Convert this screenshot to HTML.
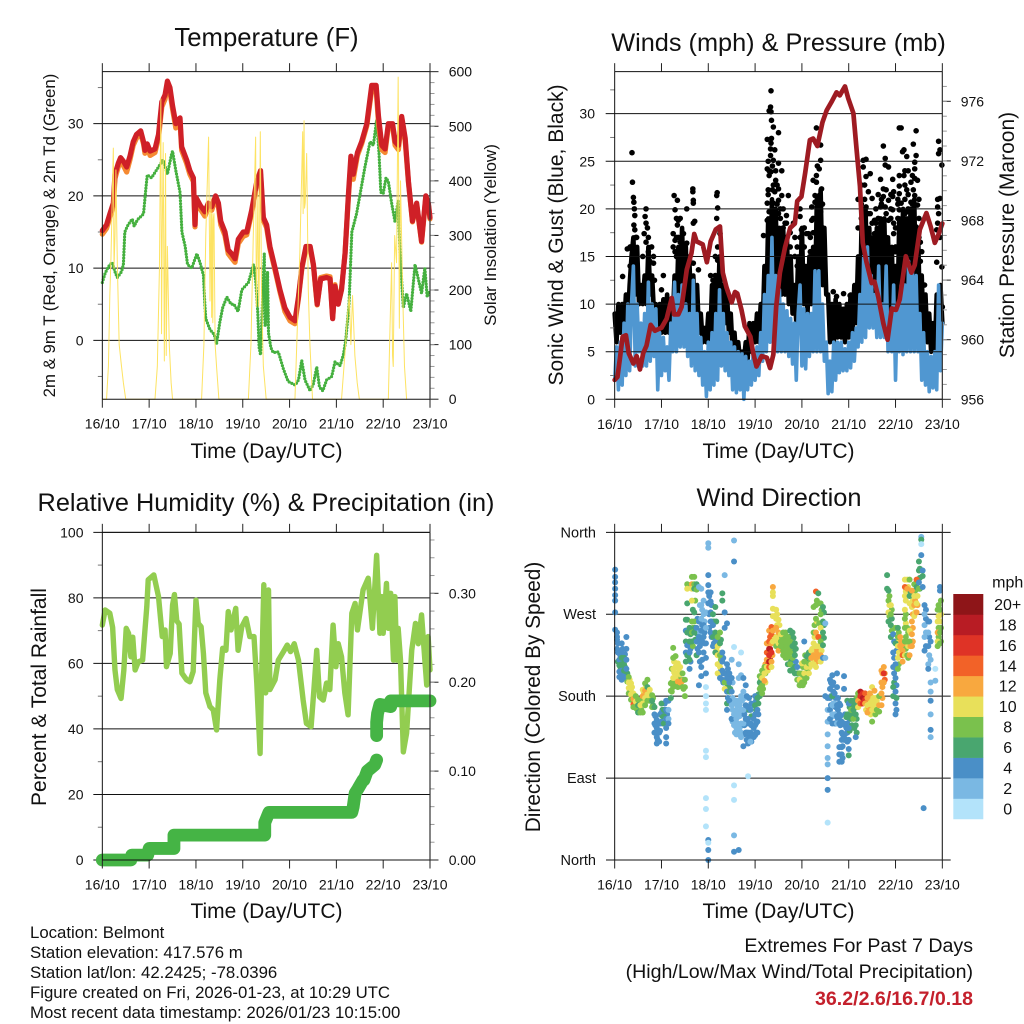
<!DOCTYPE html>
<html lang="en">
<head>
<meta charset="utf-8">
<title>Belmont station meteogram</title>
<style>
html,body{margin:0;padding:0;background:#fff;width:1024px;height:1024px;overflow:hidden}
svg{display:block}
text{font-family:"Liberation Sans",Arial,sans-serif;fill:#111}
</style>
</head>
<body>
<svg id="chart" xmlns="http://www.w3.org/2000/svg" width="1024" height="1024" viewBox="0 0 1024 1024">
<rect x="0" y="0" width="1024" height="1024" fill="#fff"/>
<g id="plots"></g>
<text x="266.5" y="46" font-size="25.7" text-anchor="middle">Temperature (F)</text>
<text x="778.5" y="51" font-size="25.3" text-anchor="middle">Winds (mph) &amp; Pressure (mb)</text>
<text x="266" y="511" font-size="25.3" text-anchor="middle">Relative Humidity (%) &amp; Precipitation (in)</text>
<text x="779" y="506" font-size="25.4" text-anchor="middle">Wind Direction</text>
<text x="266.5" y="458" font-size="21" text-anchor="middle">Time (Day/UTC)</text>
<text x="778.5" y="458" font-size="21" text-anchor="middle">Time (Day/UTC)</text>
<text x="266.5" y="918" font-size="21" text-anchor="middle">Time (Day/UTC)</text>
<text x="778.5" y="918" font-size="21" text-anchor="middle">Time (Day/UTC)</text>
<text transform="translate(55 235.5) rotate(-90)" font-size="16.8" text-anchor="middle">2m &amp; 9m T (Red, Orange) &amp; 2m Td (Green)</text>
<text transform="translate(496 235) rotate(-90)" font-size="17" text-anchor="middle">Solar Insolation (Yellow)</text>
<text transform="translate(563 235) rotate(-90)" font-size="21" text-anchor="middle">Sonic Wind &amp; Gust (Blue, Black)</text>
<text transform="translate(1014 235) rotate(-90)" font-size="21" text-anchor="middle">Station Pressure (Maroon)</text>
<text transform="translate(46 697) rotate(-90)" font-size="21" text-anchor="middle">Percent &amp; Total Rainfall</text>
<text transform="translate(540 697) rotate(-90)" font-size="20.8" text-anchor="middle">Direction (Colored By Speed)</text>
<text x="30" y="938" font-size="16.8">Location: Belmont</text>
<text x="30" y="958" font-size="16.8">Station elevation: 417.576 m</text>
<text x="30" y="978" font-size="16.8">Station lat/lon: 42.2425; -78.0396</text>
<text x="30" y="998" font-size="16.8">Figure created on Fri, 2026-01-23, at 10:29 UTC</text>
<text x="30" y="1018" font-size="16.8">Most recent data timestamp: 2026/01/23 10:15:00</text>
<text x="973" y="952" font-size="19.6" text-anchor="end">Extremes For Past 7 Days</text>
<text x="973" y="978" font-size="19.6" text-anchor="end">(High/Low/Max Wind/Total Precipitation)</text>
<text x="973" y="1005" font-size="19.6" font-weight="bold" text-anchor="end" style="fill:#c4202c">36.2/2.6/16.7/0.18</text>
</svg>
<script>
/* ---------- shared tick labels ---------- */
const dayTickLabels = ["16/10","17/10","18/10","19/10","20/10","21/10","22/10","23/10"];
const tempLeftTicks = [0,10,20,30];
const tempLeftMinor = [-5,5,15,25,35];
const solarTicks = [0,100,200,300,400,500,600];
const windLeftTicks = [0,5,10,15,20,25,30];
const windLeftMinor = [2.5,7.5,12.5,17.5,22.5,27.5,32.5];
const pressureTicks = [956,960,964,968,972,976];
const humidityTicks = [0,20,40,60,80,100];
const humidityMinor = [10,30,50,70,90];
const rainTicks = [0,0.1,0.2,0.3];
const directionTicks = [0,90,180,270,360];
const directionLabels = ["North","East","South","West","North"];
const speedBinLabels = ["0","2","4","6","8","10","12","14","16","18","20+"];
const speedBinColors = ["#b3e3fa","#7ab8e3","#4a8fc7","#49a66f","#7ac14d","#e8e05a","#f8a83f","#f26228","#df3326","#b81c24","#8e1518"];

/* ---------- temperature panel ---------- */
const tempDays = [0,.09,.16,.235,.27,.34,.39,.45,.52,.59,.66,.73,.82,.88,.91,.96,1.02,1.125,1.2,1.27,1.34,1.39,1.445,1.5,1.57,1.66,1.695,1.8,1.87,1.945,1.98,2.0,2.09,2.19,2.265,2.335,2.42,2.48,2.53,2.62,2.69,2.76,2.835,2.905,3.01,3.085,3.19,3.3,3.38,3.44,3.51,3.58,3.69,3.795,3.9,4.01,4.115,4.19,4.26,4.35,4.44,4.51,4.59,4.665,4.79,4.865,4.92,4.97,5.04,5.11,5.185,5.255,5.31,5.36,5.45,5.54,5.65,5.755,5.85,5.9,5.97,6.04,6.11,6.2,6.255,6.325,6.395,6.47,6.54,6.625,6.715,6.82,6.91,6.965,7];
const temp2m = [15.2,16,17.5,19,23,24.5,25.3,24.8,24,25.5,27.5,28.5,29,27.5,26.3,27.2,26.2,26.5,28.5,33,34,35.9,35,32.5,30,30.8,26.8,25,23.5,22.5,16,19.8,18.7,17.8,19,18.5,20,19,16.5,15,12.5,12,11.3,14,15,15,18,22,23.5,17,16,13,10,7,4.5,3.2,2.7,6,10,13,13,10.5,5,8.5,8.7,8.5,3,7.5,5,7,12,20,25.5,23,26,27.5,30,35.3,35.3,31,27,26.5,30,30,27.5,27,31,28,22,16.5,19,13.7,20,19,17];
const temp9m = [14.7,15.5,17,18.5,22.4,24,24.8,24.2,23.3,25,27,28,28.6,27.2,25.9,26.8,25.6,26,28,32.3,33.4,35.4,34.4,32,29.4,30.2,26.3,24.5,23,22,15.7,19.3,18.2,17.2,18.4,18,19.5,18.5,16,14.5,12,11.4,10.8,13.4,14.4,14.6,17.6,21.6,23,16.6,15.6,12.7,9.7,6.7,4,2.7,2.3,5.8,9.8,12.8,12.8,10.3,4.9,8.7,8.9,8.8,3.1,7.7,5.2,7.1,12,19.6,24.7,22.3,25.6,27.2,29.7,34.7,34.7,30,26.4,26,29.6,29.6,27,26.4,30.6,27.6,21.8,16.4,18.8,13.6,19.8,18.8,16.8];
const dewDays = [0,.06,.13,.21,.27,.32,.41,.45,.48,.55,.64,.68,.75,.88,.93,.96,1.05,1.2,1.3,1.39,1.48,1.5,1.57,1.66,1.7,1.77,1.82,1.91,2.02,2.09,2.16,2.19,2.21,2.3,2.39,2.44,2.51,2.57,2.66,2.75,2.81,2.9,2.98,3.12,3.23,3.28,3.32,3.35,3.38,3.42,3.46,3.48,3.51,3.53,3.55,3.6,3.65,3.76,3.87,3.97,4.12,4.19,4.26,4.33,4.44,4.51,4.58,4.64,4.71,4.79,4.9,4.97,5.08,5.15,5.2,5.27,5.33,5.43,5.5,5.61,5.72,5.79,5.86,5.91,5.95,6,6.06,6.11,6.18,6.25,6.32,6.36,6.43,6.5,6.59,6.68,6.82,6.89,6.94,7];
const dewPoint = [8,9.3,10.2,10.8,9.5,8.7,9.5,10.5,15,16,16.8,15.8,16.7,17.5,21,22.9,22.5,24,25,23,25.8,26.2,23.5,20.5,15,13,10.5,10,12,10.7,9,5,3,1.5,.8,-.5,2.5,4.5,6,5,5,4,7,8,10.5,8,4,-1,-2,5,12,2,5,9.5,1,-1,-1.7,-1.6,-4,-5.7,-6.2,-5.5,-2.8,-5.5,-7,-6,-3.7,-6.5,-7,-5.5,-5,-3,-3.5,-2,0,5,15,17.5,20,24,27.5,27,30.5,26,20.5,20.3,22.5,22,19,16.5,19.3,12,4.5,6.5,4,10.5,6.5,10,6,7];
const solarDays = [0,.09,.13,.16,.185,.235,.25,.27,.29,.32,.36,.41,.45,.5,1.125,1.175,1.22,1.25,1.265,1.28,1.3,1.325,1.35,1.365,1.39,1.43,1.47,1.5,2.12,2.17,2.21,2.27,2.3,2.32,2.335,2.345,2.36,2.37,2.385,2.41,2.44,2.49,3.12,3.175,3.225,3.275,3.29,3.3,3.325,3.34,3.35,3.375,3.4,3.44,3.5,4.115,4.165,4.22,4.28,4.29,4.31,4.32,4.335,4.365,4.4,4.435,4.49,5.11,5.18,5.235,5.275,5.31,5.345,5.395,5.445,5.49,6.11,6.145,6.18,6.2,6.215,6.245,6.285,6.32,6.345,6.37,6.415,6.455,6.5];
const solarWatts = [0,0,60,190,260,460,240,300,420,250,100,60,30,0,0,60,240,550,120,300,470,70,450,80,280,100,30,0,0,100,300,480,180,370,150,340,140,330,340,100,60,0,0,100,300,480,170,220,380,170,200,490,200,60,0,0,130,270,490,340,510,350,360,450,200,100,0,0,80,150,190,100,190,80,30,0,0,130,250,80,60,300,250,590,130,400,200,60,0];

/* ---------- wind panel: readings every 0.04 day ---------- */
const windStepDays = 0.04;
const sonicWind = [
2,5.5,1,6,1.5,8,2.5,10,3,10,
14,3.5,10,5,8,3.5,9,3.5,12.3,4,
10,4.5,9.5,1,7,2.5,6.5,3,5.5,2,
8,5,12.3,5,11,5.5,12,5.5,10,4.5,
9,3.5,12.5,3,9,2.5,6.5,1.5,5,.3,
6,1,7,1.5,9,2,11.5,3.5,9,3,
7,2.5,6,1,5.5,.7,5,1,4.8,0,
4.5,1,4,1.5,5,2,5.5,2.5,7,4,
11,5,13,6,17,6,13,5,11.5,5,
10,5,9.3,4.5,8.5,3.7,8,2,9,12,
3.5,9.5,3.2,9,4.5,9,5,13.5,5,13.5,
5,10,4,6,.6,4,.8,6,2,6,
2.8,6,3,5.3,3,6,3.3,7,4,7.5,
5.5,11,6,15,6.5,16,7.5,13,7.5,11,
6.5,14,6.5,10,6.5,14,5,8,5,12,
2,10,5,12,4.7,12,5,14.5,5,13.5,
5,13,5,9,2,7,1.5,5,.8,4.5,
1.2,5,1,12,3,8];
const gustWind = [
9,6,10,7,10,7,11,8,12,15,
17,11,16,10,12,10,13,10,16,11,
13,9,10,7,10,7,10.5,7,11,7,
10,8,13,9,16,10,18,10,16,9,
14,9,13,8,12,7,9,6,7.5,6,
9,6,12,7,13,8,15,9,12,8,
11,7,9,5,7,4,6,4,5,4,
6,4,8,5,8,6,9,6,10,7,
14,9,19,11,21,12,20,12,18,11,
18,11,17,10,15,9,12,8,15,11,
18,10,14,9,15,10,16,11,21,12,
22,12,18,11,11,6,10,6,10.5,6.5,
10,6.5,9.5,6,10,6.5,11,7,12,8,
15,9,20,11,20,11,18,10,17,10,
18,10,19,10,19,10,17,9,16,9,
14,8,19,9,20,10,19,10,20,10,
21,10,18,9,13,7,11,6,9,5,
8,5,11,5,12,8];
const gustColumnDays = [.17,.27,.36,.37,.38,.4,.41,.42,.43,.47,.63,.65,.67,.7,.72,.79,.83,1,1.04,1.25,1.27,1.29,1.34,1.36,1.43,1.47,1.54,1.6,1.67,1.68,1.71,1.79,2.05,2.1,2.18,2.19,2.2,2.25,2.36,3.18,3.26,3.3,3.33,3.34,3.35,3.39,3.42,3.5,3.57,3.67,3.71,3.82,3.96,3.99,4.1,4.14,4.21,4.28,4.31,4.37,4.4,4.42,4.46,4.67,4.74,4.89,5.03,5.31,5.37,5.42,5.46,5.5,5.55,5.68,5.74,5.78,5.85,5.94,5.96,6.08,6.12,6.15,6.18,6.24,6.33,6.38,6.41,6.44,6.47,6.56,6.88,6.9,6.92,6.95,6.99,7,3.28,3.37,3.44,3.47,3.54,3.6,3.64,3.75,3.85,3.9,4.05,4.18,4.24,4.33,4.44,5.2,5.27,5.34,5.42,5.5,5.58,5.63,5.7,5.8,5.9,6,6.05,6.2,6.27,6.36,6.5,6.53,6.62,1.32,1.4,1.5,.33,.45,.6,.75,2.15,2.28,.85];
const gustColumnSpeeds = [[12.9],[15.8],[15.8],[25.9],[22.8],[21.2],[20.7,18.3],[20],[19.3,17.8],[17,15],[17.4],[19.2],[20,18.5,16.5],[18],[17,15.5],[16],[15,14.3],[11.5],[13],[17.4,16],[21.4],[19.9,16.7,15.5],[20.9,18.3],[18.8,17],[16.4],[17.4,15],[20,16.4,15],[14.6],[22.1,21.8],[20.9,20.6,18.5,14.3],[18.7],[13.6],[13],[12.5,11.5],[21.4,19],[21.7],[20.1,17.9,16,14.6],[17.4],[11.8],[17.2],[27.3,24.2,20.6,18.8],[30.3,24,23.5,19.7],[30.7,25.6,26.3],[32.4,30.2,26.9,23.9],[29.3,27.4],[28.6,25.1,22.5,20.6],[26.2,21.8],[28,24.8,22.1,20.9,19.5],[24,21.4],[19.3,18.5],[21.4],[18.5],[20,19.2,17],[17.8],[17.4],[17.4],[20.2,18.8],[20.7,21.4],[28.5,22.8,23.5],[24.2,21.4],[26.7,25.1,19.7],[22.1,18.1,17.4],[16.4,15.7,12.9],[11.3],[10.8],[11.1],[10.9],[25.1,24.4],[25.2,23.4,20.2],[21.8],[23.7,19.5],[21.1],[18.8,17.4],[23.1,20.2],[26.6,22.1,21.3,18.8],[25.3,24.6,20.2],[24.4,20.9,18.8],[23.1,21.3,19.9],[21.8,18.5,17.4],[28.5,22.4,23.5,21.6,19.9],[28.5,20.6],[26,17.8],[26.2,23.5,18.5],[25.5,22,19.7,17],[22.8,20.7],[26.8,22,19.2],[24.9,24.2,23.2,21.4],[28.2,25.6,18.1,16.7],[23,20.4],[15.5],[14.4,17.8],[21,18.5,20.2],[27.1,25.8,19.5],[26.2,21.1,17],[24.6,13.9],[9.7],[22,25,21.5],[24.5,22,20],[23,24],[22.5,20.5],[20,19],[20,18,16.5],[18.5,17],[17.5,16],[15,17],[16,14],[16,18],[14,15.5,17],[19,17.5,23],[24.5,20,18.5],[20.5,14.5],[21,18],[22.5,20.5,19],[21,22.5,18.5],[19.5,17.5],[18.5,16.5],[20,18.5],[19,21.5],[20.5,18,21],[22,19.5,17],[20,21.5,19],[18,16,15.5],[19,20.5,21],[21,24,22.5,19.5],[24,21.5,20,18.5],[23.5,20.5,18],[21,19,17],[16.5,14.5],[12,10],[17,19,15],[19,16.5],[16,15],[14,16],[15.5,17],[15],[14.5],[15,13],[13,15],[12.5]];
const pressureDays = [0,.06,.11,.17,.24,.3,.4,.47,.54,.61,.68,.77,.86,1,1.11,1.22,1.27,1.36,1.43,1.54,1.64,1.7,1.75,1.88,1.97,2.05,2.16,2.25,2.31,2.39,2.5,2.57,2.62,2.71,2.78,2.9,2.96,3.03,3.14,3.25,3.32,3.39,3.45,3.53,3.64,3.75,3.85,3.9,3.99,4.07,4.17,4.24,4.33,4.44,4.53,4.64,4.74,4.81,4.92,4.99,5.1,5.17,5.24,5.3,5.38,5.49,5.55,5.63,5.74,5.83,5.92,6.01,6.09,6.22,6.34,6.41,6.52,6.66,6.75,6.84,6.91,7];
const pressureMb = [957.3,957.5,958.7,960.2,960.3,959.1,958.4,958.9,958,959.1,959.6,961,960.6,960.8,961.4,962.8,961.7,961.7,962.2,964.7,965.8,967.1,966.6,966.4,965.2,966.6,967.4,967.6,964.5,963.5,962.5,963.2,963.1,962,960.9,960.2,959.1,958.2,958.9,958.8,958.1,959,962.2,964.5,966.2,967.5,967.8,969.3,969.6,971.2,973.4,973.5,973,974.6,975.4,976,976.6,976.4,977,976.2,975.2,972.7,970.3,966.5,965.2,963.8,963.9,962.9,961.1,960,962.1,962,962.7,965.6,964.5,965,967.4,968.5,967.6,966.5,967,967.8];

/* ---------- humidity panel ---------- */
const humidityDays = [0,.06,.16,.22,.27,.32,.4,.46,.51,.56,.61,.65,.7,.77,.86,.95,.98,1.1,1.2,1.28,1.34,1.37,1.45,1.5,1.54,1.59,1.64,1.7,1.8,1.87,1.94,2,2.05,2.11,2.16,2.21,2.3,2.37,2.44,2.51,2.57,2.64,2.69,2.75,2.85,2.9,2.98,3.07,3.15,3.24,3.3,3.37,3.4,3.45,3.49,3.55,3.58,3.69,3.76,3.87,3.95,4.02,4.1,4.19,4.29,4.36,4.46,4.52,4.58,4.64,4.72,4.79,4.86,4.93,4.99,5.04,5.11,5.18,5.25,5.33,5.4,5.45,5.57,5.68,5.77,5.86,5.93,5.97,6,6.07,6.11,6.16,6.22,6.25,6.29,6.32,6.37,6.43,6.5,6.61,6.69,6.75,6.82,6.89,6.93,6.96,7];
const humidityPercent = [71.7,76.3,75.3,71,58,52,49.3,58,70.7,69.2,62,68,58,60.5,61,77.3,85.5,87,80.4,68.2,70.2,59,63,77.8,81,73,72,57,55,54.4,57.5,79.3,72.2,71.2,63,51,46.8,45.8,39.7,55,64.6,64,75.8,70.2,76.8,64,71.2,73.7,68.2,68.2,54,32.5,54,84,51,82.4,52,55,61,63.6,65.6,63.6,66,61,48.8,41.7,40.7,52,64,49.8,48.8,54,52,71.7,59,66,62,51,44.3,75.3,78.3,70.2,82.4,86,70.7,93,69.2,80.4,69.2,84.4,70.7,81.4,61,80.4,61,70.7,61,33,38.7,64,72.2,66,74.8,61,53.4,68.2,58];
const rainDays = [0,.61,.63,.97,1,1.53,1.53,3.45,3.47,3.47,3.56,5.33,5.36,5.4,5.46,5.57,5.59,5.66,5.82,5.86,5.86,5.86,5.88,5.93,6.16,6.16,7];
const rainInches = [0,0,.0055,.0055,.013,.013,.028,.028,.028,.042,.0536,.0536,.06,.075,.08,.09,.09,.1,.107,.1125,.14,.155,.165,.175,.1725,.179,.179];

/* ---------- direction panel ---------- */
const dirColumnDays = [.01,.05,.1,.15,.2,.25,.3,.35,.4,.45,.5,.55,.6,.65,.7,.75,.8,.85,.9,.95,1,1.05,1.1,1.15,1.2,1.25,1.3,1.35,1.4,1.45,1.5,1.52,1.55,1.6,1.65,1.7,1.75,1.8,1.85,1.9,1.95,2,2.05,2.1,2.15,2.2,2.25,2.3,2.35,2.4,2.45,2.5,2.55,2.6,2.65,2.7,2.75,2.8,2.85,2.9,3,3.05,3.1,3.15,3.2,3.25,3.3,3.35,3.38,3.45,3.5,3.55,3.6,3.65,3.7,3.75,3.8,3.85,3.9,3.95,4,4.05,4.1,4.15,4.2,4.25,4.3,4.35,4.4,4.45,4.5,4.55,4.6,4.65,4.7,4.75,4.8,4.85,4.9,4.95,5,5.05,5.1,5.15,5.2,5.25,5.3,5.35,5.4,5.45,5.5,5.55,5.6,5.65,5.7,5.75,5.82,5.85,5.9,5.95,6,6.05,6.1,6.15,6.2,6.25,6.3,6.35,6.4,6.45,6.5,6.55,6.58,6.6,6.62,6.7,6.75,6.85,6.9,6.95];
const dirColumnDegrees = [
[319,311,305,298,291,285,272,253],[250,245,242,232],[227,220,214,207,201],[238,230,222,215,208,198],[222,215,208,201],[245,232,220,210],[201,195,189,183],[194,188,182,176],[183,177,171,168],[180,174,168],
[176,170,162],[176,170,162],[187,180,172,162],[194,186,178,170],[198,190,182,175],[187,180,175],[181,175,168],[168,160,150,140],[154,145,135,128],[150,140,130],
[172,162,152],[165,158,150],[175,165,155,145,135,128],[175,165,155,150],[194,186,178],[233,222,210,200,190],[224,212,200,192],[216,205,196,190],[212,204,195],[205,197,190],
[198,190,180],[264,252,240,228,218],[303,298,282,264,250,236,225],[255,240,228,220,210],[311,303,298,285,262,250,240],[311,303,298,272,262,250],[303,297,255,240,225],[300,262,245,228,192],[298,280,265,252,240,212,202],[285,270,258,245,228],
[272,255,238,222,205,190,180,172,165,120,113,68,56,37],[348,343,313,302,294,282,22,19,11,0],[294,284,272,262,250],[270,258,245,235],[278,250,240,228],[245,235,225,215,205],[250,238,225,212,200],[293,285,228,218,208,198],[313,272,255,205,195,188],[260,215,200,185,172,165],
[205,195,185,175],[220,200,185,170,155,155],[351,328,234,172,160,148,82,66,27,9],[175,165,155,145,138],[215,200,175,160,148,138,11],[228,203,180,165,150,140,135],[200,185,165,150,125],[192,170,155,140],[92,168,155,140,128],[165,150,140,130],
[180,170,160,148,137],[178,165,152,140],[202,195,188,180],[208,200,192,183],[212,205,197],[238,228,220,212],[252,240,232,225,218,212],[256,248,238,228,218,212],[300,294,290,276,268,252,240],[275,265,255,245,235],
[264,250,238,230],[248,240,235],[250,240,230,225],[250,240,230,222],[245,235,225,215],[252,240,228,215,208],[250,235,222,208],[238,225,212,205],[212,205,198],[205,198,192],
[216,205,195],[240,218,205,195],[224,212,200],[228,216,205],[230,222,215],[278,250,238,225,215],[295,280,265,250,235,222,212],[293,282,245,235,225,220],[282,270,255,240,225,218],[278,262,250,236,222],
[260,222,180],[178,165,152,138,125,112,105,90,77,41],[198,188,178,165,155],[203,192,180,170,160,150],[183,172,160,150],[205,190,170,158,150],[172,160,150,124,116,108],[152,140,132,124,116,108],[202,188,150,138,132],[157,145,132],
[172,160,145,132,122,115],[175,165,155],[175,165,155],[172,160,148,135],[183,175,168],[185,180,172],[183,178,172],[183,176,172],[178,170,162],[183,172,165],
[190,175,165,152],[186,172,165],[175,165],[180,170,163],[208,195,183,170],[212,205,195],[313,298],[296,285,272,262],[280,270,258,245],[248,228,212,190,180],
[255,238,215,200,185,172,160],[255,245,235,222,210],[245,235,228],[230,225,218],[308,300,290,275,265,255,240,225],[308,298,255,240,225],[308,290,282,252,240,225],[296,278,262,248,235],[303,290,280,268],[308,300,282,272],
[328,318,305,298],[355,352,347,335],[318,312,300],[57],[280,270,258,245,230],[262,250,235,215,210],[240,220,195,185,175,160,143,135],[210,197],[275,262,250,240,235],[300,296,275,262,250,238]];
const dirColumnSpeeds = [
[4,4,4,4,4,4,4,4],[4,4,4,4],[4,4,6,4,4],[4,4,6,6,4,4],[6,6,6,4],[4,4,4,4],[8,10,10,8],[10,10,10,8],[10,12,14,8],[8,10,8],
[8,6,6],[8,10,8],[10,12,10,8],[8,12,10,8],[8,6,10,8],[10,10,8],[8,6,8],[6,4,4,4],[4,4,4,4],[4,4,4],
[6,4,4],[6,6,6],[4,4,4,4,4,4],[4,2,2,4],[8,8,6],[8,8,10,10,8],[8,10,10,8],[10,10,12,8],[10,10,12],[8,12,8],
[8,8,8],[6,4,6,4,6],[8,10,6,6,6,4,6],[6,6,4,6,4],[8,12,10,10,8,8,6],[8,8,6,6,8,6],[6,8,4,4,6],[2,4,4,4,4],[2,2,2,4,4,4,4],[2,2,4,4,4],
[2,2,4,4,4,0,0,0,0,0,0,0,0,0],[2,2,4,4,4,4,4,0,4,4],[4,4,4,4,4],[6,4,6,4],[6,6,4,6],[8,10,10,10,10],[8,6,8,10,4],[6,6,4,4,4,4],[2,4,4,4,8,10],[4,4,4,4,6,4],
[4,4,6,4],[2,4,4,2,4,4],[2,4,0,2,2,2,0,0,2,4],[2,2,2,2,2],[2,2,2,2,2,2,4],[0,2,2,2,2,2,2],[4,2,2,2,4],[4,4,4,4],[0,4,4,4,4],[4,4,4,2],
[4,6,4,4,4],[6,4,4,4],[8,6,8,6],[8,10,8,8],[8,10,12],[12,14,12,10],[12,14,18,16,18,14],[14,14,12,16,12,10],[12,10,10,10,10,12,10],[10,10,12,10,8],
[10,12,10,12],[10,8,8],[8,8,8,8],[8,8,8,8],[8,8,8,6],[6,8,8,8,6],[6,6,8,6],[6,6,6,6],[4,6,8],[8,10,8],
[10,8,8],[4,8,10,8],[6,10,8],[6,8,10],[10,12,10],[8,8,10,12,10],[14,8,8,12,10,12,10],[6,8,14,10,12,12],[8,8,10,8,12,10],[6,6,6,6,4],
[2,2,4],[4,2,2,2,2,2,2,4,4,0],[4,4,4,4,4],[4,4,6,2,2,4],[4,2,2,4],[4,4,4,4,2],[4,4,4,4,4,4],[4,4,4,4,4,4],[4,4,4,4,4],[6,4,4],
[4,6,4,4,4,6],[6,8,6],[6,6,8],[6,6,6,4],[8,12,10],[18,16,14],[16,18,16],[14,16,12],[12,10,12],[12,10,12],
[10,10,10,8],[12,10,10],[10,8],[8,12,8],[12,12,12,12],[12,16,12],[6,6],[6,8,10,6],[10,8,6,6],[4,4,4,6,6],
[8,6,4,4,4,4,4],[6,8,10,10,8],[12,12,10],[12,14,12],[10,14,10,10,8,8,8,10],[10,12,8,8,8],[8,6,10,10,8,12],[12,10,12,12,12],[8,10,12,10],[14,6,10,12],
[6,6,4,8],[2,6,0,4],[4,6,4],[4],[4,2,2,2,4],[4,2,4,2,4],[4,2,2,2,4,2,4,2],[0,2],[8,10,12,10,8],[4,4,8,10,8,8]];
const dirExtraDays = [.07,.12,.17,.22,.27,.32,.37,.42,.47,.52,.57,.62,.67,.72,.82,.87,.92,.97,1.02,1.07,1.12,1.22,1.27,1.32,1.37,1.42,1.47,1.57,1.62,1.67,1.72,1.77,1.82,1.87,1.92,2.02,2.07,2.12,2.17,2.22,2.27,2.32,2.42,2.47,2.52,2.57,2.62,2.67,2.72,2.77,2.82,2.87,2.92,2.97,3.02,3.07,3.12,3.17,3.22,3.27,3.32,3.37,3.42,3.47,3.52,3.57,3.62,3.67,3.72,3.77,3.82,3.87,3.92,3.97,4.02,4.07,4.12,4.17,4.22,4.27,4.32,4.37,4.42,4.47,4.62,4.67,4.72,4.77,4.82,4.87,4.92,4.97,5.02,5.07,5.12,5.17,5.22,5.27,5.32,5.37,5.42,5.47,5.52,5.57,5.72,5.77,5.87,5.92,5.97,6.02,6.07,6.12,6.17,6.22,6.27,6.32,6.37,6.42,6.47,6.52,6.65,6.72,6.92,6.97];
const dirExtraDegrees = [[238,228,218],[225,212],[232,220,205],[226,212,200],[205,196],[198,186],[190,180],[178,170],[176,166],[172,164],[172,165],[184,172],[190,176],[185,178],[178,170],[158,148],[150,140,132],[160,150,142],[165,158,150],[172,160,150],[160,150],[210,195,185],[218,206,195],[212,200],[210,200],[205,195],[198,188],[250,238,225],[248,232,218],[275,255,235],[285,255,242],[265,248,232],[280,250,235,218],[275,258,240,220],[262,250,238],[290,270,255],[280,262,245],[262,248,238],[262,245,232],[240,228,215],[242,220,208],[222,205,195],[210,192,178],[200,188,172],[195,178,165,152],[172,160,150,140],[170,160,150,142],[170,158,145],[175,160,148,138],[178,160,148,138],[180,165,150,140,132],[178,165,150,135],[172,158,148,138,130],[170,155,145,135],[175,165,150,140],[182,172,160],[197,190,182],[205,196,188],[215,205,195],[238,228,218,208],[245,232,222],[252,240,225],[268,255,245],[270,258,242],[258,245,232],[245,235],[245,235,228],[246,236,226],[242,232,222],[246,232,218],[244,228,212],[232,218],[205,198],[198,192],[212,200,192],[225,212,200],[220,208],[222,212],[232,222],[258,245,230,218],[285,262,245,230,218],[260,245,228],[275,260,245,230],[272,258,244],[195,180,170],[195,185,172,158],[178,168,158,150],[178,165,155],[170,158,148],[150,138,125,112],[160,148,138],[175,160,150,140,130],[168,155,142],[172,160,148],[170,158,145],[178,168,155,140],[184,176,170],[184,178,172],[182,176],[180,172,165],[176,168],[180,170,160],[178,168],[178,168,160],[205,190,178],[205,198],[290,280,268],[275,265,252],[240,222,205,195],[230,210,192,178,165],[250,240,228,215],[240,232],[235,225],[295,285,270,260,245,232],[300,250,235,222],[295,250,235],[285,270,255,240],[296,285,272],[308,290,280],[320,310,298],[275,265,250,235],[262,245,225],[280,268,255,245],[285,270,255,240]];
const dirExtraSpeeds = [[4,4,6],[4,6],[4,6,4],[4,6,4],[6,8],[10,10],[10,10],[10,8],[8,8],[8,6],[10,8],[10,8],[10,8],[8,8],[8,6],[4,4],[4,4,4],[4,4,4],[6,6,4],[4,4,4],[4,2],[8,8,8],[10,10,8],[10,10],[10,8],[10,12],[8,8],[6,6,6],[6,4,4],[6,8,8],[8,6,6],[4,6,4],[2,2,4,4],[2,4,4,4],[2,4,4],[4,4,4],[4,6,4],[6,6,4],[6,8,10],[8,10,10],[6,8,4],[4,4,4],[4,6,4],[4,6,4],[2,2,2,2],[2,2,2,2],[2,2,2,2],[2,2,2],[2,2,2,4],[2,4,4,4],[4,4,4,4,4],[4,6,4,4],[4,6,4,4,4],[4,4,4,4],[4,6,4,4],[6,6,4],[8,8,6],[10,8,8],[12,8,10],[12,14,14,10],[14,18,18],[14,12,12],[10,12,10],[10,10,10],[10,10,10],[8,8],[8,8,8],[8,8,8],[8,8,8],[6,8,6],[6,6,6],[6,4],[6,8],[8,8],[8,8,8],[8,8,8],[6,8],[8,10],[10,12],[8,10,10,10],[8,10,10,12,12],[8,10,12],[8,8,8,10],[6,6,6],[4,4,4],[4,4,2,2],[4,4,2,4],[4,4,4],[4,4,4],[4,4,4,4],[4,4,4],[6,6,4,4,4],[6,4,6],[6,6,6],[6,6,6],[8,6,6,6],[12,14,10],[18,18,14],[18,14],[14,12,10],[10,12],[12,10,10],[10,10],[10,10,8],[12,12,12],[12,14],[8,10,8],[8,6,8],[4,4,4,6],[4,4,4,6,4],[8,10,10,8],[12,12],[12,14],[10,10,8,10,8,8],[10,8,10,8],[6,10,12],[10,12,12,12],[8,12,10],[10,10,12],[6,6,6],[4,4,2,4],[4,4,2],[8,10,8,8],[8,10,8,8]];

/* ---------- helpers ---------- */
const SVG_NS = "http://www.w3.org/2000/svg";
const plotLayer = document.getElementById("plots");
function addMark(parent, tag, attrs, markName) {
  const el = document.createElementNS(SVG_NS, tag);
  Object.keys(attrs).forEach(function (k) { el.setAttribute(k, attrs[k]); });
  
  
  parent.appendChild(el);
  return el;
}
function linearScale(d0, d1, r0, r1) {
  return function (v) { return r0 + (v - d0) / (d1 - d0) * (r1 - r0); };
}
function pointString(xs, ys, xScale, yScale) {
  return xs.map(function (x, i) { return xScale(x).toFixed(2) + "," + yScale(ys[i]).toFixed(2); }).join(" ");
}
function addLine(parent, xs, ys, xScale, yScale, style, markName) {
  const attrs = { points: pointString(xs, ys, xScale, yScale), fill: "none", "stroke-linejoin": "round", "stroke-linecap": "round" };
  Object.keys(style).forEach(function (k) { attrs[k] = style[k]; });
  return addMark(parent, "polyline", attrs, markName);
}
function addText(parent, x, y, str, size, anchor, markName) {
  const t = addMark(parent, "text", { x: x, y: y, "font-size": size, "text-anchor": anchor }, markName);
  t.textContent = str;
  return t;
}
function drawFrame(parent, box, prefix) {
  const xScale = box.x;
  dayTickLabels.forEach(function (label, i) {
    const px = xScale(i);
    addMark(parent, "line", { x1: px, x2: px, y1: box.top - 8.5, y2: box.top, stroke: "#222", "stroke-width": 1 }, prefix + "-top-tick");
    addMark(parent, "line", { x1: px, x2: px, y1: box.bottom, y2: box.bottom + 8.5, stroke: "#222", "stroke-width": 1 }, prefix + "-bottom-tick");
    addText(parent, px, box.bottom + 29.5, label, 14, "middle", prefix + "-x-tick-label");
  });
  addMark(parent, "line", { x1: box.left, x2: box.right, y1: box.top, y2: box.top, stroke: "#111", "stroke-width": 1 }, prefix + "-top-border");
  addMark(parent, "line", { x1: box.left, x2: box.right, y1: box.bottom, y2: box.bottom, stroke: "#111", "stroke-width": 1 }, prefix + "-bottom-border");
  addMark(parent, "line", { x1: box.left, x2: box.left, y1: box.top, y2: box.bottom, stroke: "#111", "stroke-width": 1 }, prefix + "-left-border");
  addMark(parent, "line", { x1: box.right, x2: box.right, y1: box.top, y2: box.bottom, stroke: "#333", "stroke-width": 1.2 }, prefix + "-right-border");
}
function leftAxis(parent, box, ticks, minor, yScale, labels, labelX, prefix) {
  ticks.forEach(function (v, i) {
    const py = yScale(v);
    addMark(parent, "line", { x1: box.left - 9, x2: box.right, y1: py, y2: py, stroke: "#111", "stroke-width": 1 }, prefix + "-gridline");
    addText(parent, labelX, py + 5, labels ? labels[i] : String(v), 14, "end", prefix + "-y-tick-label");
  });
  minor.forEach(function (v) {
    const py = yScale(v);
    addMark(parent, "line", { x1: box.left - 4.5, x2: box.left, y1: py, y2: py, stroke: "#777", "stroke-width": 1 }, prefix + "-y-minor-tick");
  });
}
function rightAxis(parent, box, ticks, minor, yScale, fmt, labelX, prefix) {
  ticks.forEach(function (v) {
    const py = yScale(v);
    addMark(parent, "line", { x1: box.right, x2: box.right + 8.5, y1: py, y2: py, stroke: "#222", "stroke-width": 1 }, prefix + "-right-tick");
    addText(parent, labelX, py + 5, fmt(v), 14, "start", prefix + "-right-tick-label");
  });
  minor.forEach(function (v) {
    const py = yScale(v);
    addMark(parent, "line", { x1: box.right, x2: box.right + 4.5, y1: py, y2: py, stroke: "#999", "stroke-width": 1 }, prefix + "-right-minor-tick");
  });
}
function stepValues(start, stop, step) {
  const out = [];
  for (let i = 0; start + i * step <= stop + 1e-9; i++) out.push(start + i * step);
  return out;
}

/* ---------- temperature ---------- */
const tempBox = { left: 102.33, right: 430, top: 71.67, bottom: 399.2 };
tempBox.x = linearScale(0, 7, tempBox.left, tempBox.right);
const tempY = linearScale(-8.15, 37.2, tempBox.bottom, tempBox.top);
const solarY = linearScale(0, 600, tempBox.bottom, tempBox.top);
const tempGroup = addMark(plotLayer, "g", {}, "temperature-panel");
leftAxis(tempGroup, tempBox, tempLeftTicks, tempLeftMinor, tempY, null, 83.5, "temperature");
rightAxis(tempGroup, tempBox, solarTicks, stepValues(20, 580, 20), solarY, String, 448.7, "insolation");
addLine(tempGroup, dewDays, dewPoint, tempBox.x, tempY, { stroke: "#45b03f", "stroke-width": 3.2, "stroke-dasharray": "0 3" }, "dew-point-line");
addLine(tempGroup, tempDays, temp9m, tempBox.x, tempY, { stroke: "#f58a32", "stroke-width": 5.2 }, "temperature-9m-line");
addLine(tempGroup, tempDays, temp2m, tempBox.x, tempY, { stroke: "#cf2027", "stroke-width": 5.2 }, "temperature-2m-line");
addLine(tempGroup, solarDays, solarWatts, tempBox.x, solarY, { stroke: "#fde25a", "stroke-width": 1, "stroke-opacity": 0.95 }, "solar-insolation-line");
drawFrame(tempGroup, tempBox, "temperature");

/* ---------- winds ---------- */
const windBox = { left: 614.67, right: 942.33, top: 71.67, bottom: 399.3 };
windBox.x = linearScale(0, 7, windBox.left, windBox.right);
const windY = linearScale(0, 34.41, windBox.bottom, windBox.top);
const pressureY = linearScale(956, 977.99, windBox.bottom, windBox.top);
const windGroup = addMark(plotLayer, "g", {}, "winds-panel");
const windSampleDays = sonicWind.map(function (v, i) { return i * windStepDays; });
addLine(windGroup, windSampleDays, gustWind, windBox.x, windY, { stroke: "#000", "stroke-width": 4.6 }, "gust-speed-trace");
gustColumnDays.forEach(function (day, i) {
  gustColumnSpeeds[i].forEach(function (v) {
    addMark(windGroup, "circle", { cx: windBox.x(day), cy: windY(v), r: 2.8, fill: "#000" }, "gust-point");
  });
});
addLine(windGroup, windSampleDays, sonicWind, windBox.x, windY, { stroke: "#5097d1", "stroke-width": 3.6 }, "sonic-wind-line");
leftAxis(windGroup, windBox, windLeftTicks, windLeftMinor, windY, null, 595, "winds");
rightAxis(windGroup, windBox, pressureTicks, stepValues(957, 977, 1), pressureY, String, 960.7, "pressure");
addLine(windGroup, pressureDays, pressureMb, windBox.x, pressureY, { stroke: "#9e1b22", "stroke-width": 4.7 }, "station-pressure-line");
drawFrame(windGroup, windBox, "winds");

/* ---------- humidity and rain ---------- */
const humidBox = { left: 102.33, right: 430, top: 532.33, bottom: 860 };
humidBox.x = linearScale(0, 7, humidBox.left, humidBox.right);
const humidY = linearScale(0, 100, humidBox.bottom, humidBox.top);
const rainY = linearScale(0, 0.3686, humidBox.bottom, humidBox.top);
const humidGroup = addMark(plotLayer, "g", {}, "humidity-panel");
leftAxis(humidGroup, humidBox, humidityTicks, humidityMinor, humidY, null, 83.5, "humidity");
rightAxis(humidGroup, humidBox, rainTicks, stepValues(0.02, 0.36, 0.02), rainY, function (v) { return v.toFixed(2); }, 448.7, "rain");
addLine(humidGroup, humidityDays, humidityPercent, humidBox.x, humidY, { stroke: "#92cd50", "stroke-width": 5.4 }, "relative-humidity-line");
let rainStart = 0;
rainInches.forEach(function (v, i) {
  const isGap = i + 1 < rainInches.length && rainInches[i + 1] - v > 0.02;
  const isEnd = i === rainInches.length - 1;
  if (isGap || isEnd) {
    addLine(humidGroup, rainDays.slice(rainStart, i + 1), rainInches.slice(rainStart, i + 1), humidBox.x, rainY, { stroke: "#45b445", "stroke-width": 12.8 }, "total-rainfall-trace");
    rainStart = i + 1;
  }
});
drawFrame(humidGroup, humidBox, "humidity");

/* ---------- direction ---------- */
const dirBox = { left: 614.67, right: 942.33, top: 532.33, bottom: 860 };
dirBox.x = linearScale(0, 7, dirBox.left, dirBox.right);
const dirY = linearScale(0, 360, dirBox.bottom, dirBox.top);
const dirGroup = addMark(plotLayer, "g", {}, "direction-panel");
directionTicks.forEach(function (v, i) {
  const py = dirY(v);
  addMark(dirGroup, "line", { x1: 606, x2: 950.7, y1: py, y2: py, stroke: "#111", "stroke-width": 1 }, "direction-gridline");
  addText(dirGroup, 596, py + 5, directionLabels[i], 14.5, "end", "direction-y-tick-label");
});
function drawDirectionColumns(days, degrees, speeds) {
  days.forEach(function (day, i) {
    degrees[i].forEach(function (deg, j) {
      const bin = Math.min(speedBinColors.length - 1, Math.floor(speeds[i][j] / 2));
      addMark(dirGroup, "circle", { cx: dirBox.x(day), cy: dirY(deg), r: 3, fill: speedBinColors[bin] }, "wind-direction-point");
    });
  });
}
drawDirectionColumns(dirExtraDays, dirExtraDegrees, dirExtraSpeeds);
drawDirectionColumns(dirColumnDays, dirColumnDegrees, dirColumnSpeeds);
drawFrame(dirGroup, dirBox, "direction");

/* ---------- colour legend ---------- */
const legendGroup = addMark(plotLayer, "g", {}, "speed-legend");
const legendBoxHeight = 20.45;
addText(legendGroup, 1007.7, 587.5, "mph", 16, "middle", "speed-legend-title");
speedBinLabels.forEach(function (label, i) {
  const rowTop = 594 + (speedBinLabels.length - 1 - i) * legendBoxHeight;
  addMark(legendGroup, "rect", { x: 953.3, y: rowTop, width: 30, height: legendBoxHeight + 0.3, fill: speedBinColors[i] }, "speed-legend-swatch");
  addText(legendGroup, 1007.7, rowTop + legendBoxHeight / 2 + 5.7, label, 16, "middle", "speed-legend-label");
});
</script>
</body>
</html>
